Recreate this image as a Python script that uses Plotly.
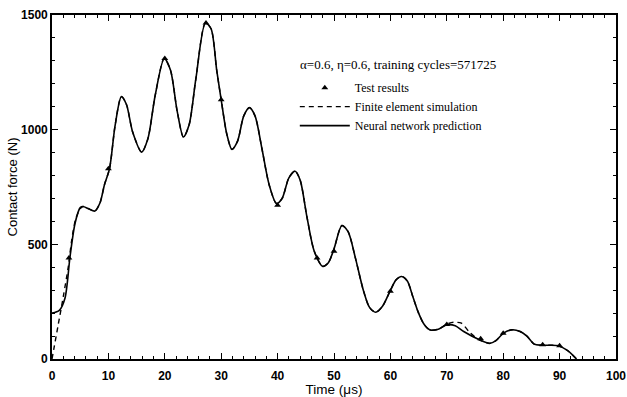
import plotly.graph_objects as go

# Neural network prediction (solid)
nn_t = [0, 1.3, 2.3, 3.2, 4.1, 5.0, 5.5, 6.5, 7.6, 8.5, 9.3, 10.2, 11.2, 12.3, 13.2, 14.3, 15.9,
        17.0, 18.3, 19.9, 21.0, 22.2, 23.3, 24.3, 25.5, 27.2, 28.2, 29.2, 30.0, 31.0, 31.9, 32.9,
        34.0, 35.0, 36.0, 37.2, 38.5, 39.8, 40.8, 42.0, 43.1, 44.0, 45.2, 46.5, 48.0, 49.0, 50.0,
        51.4, 52.5, 53.8, 55.2, 56.3, 57.4, 58.6, 59.9, 61.0, 62.0, 63.0, 64.0, 65.0, 66.0, 67.0,
        68.5, 70.0, 71.5, 73.0, 75.6, 77.6, 78.7, 80.0, 81.5, 83.0, 84.2, 85.5, 86.8, 89.8, 91.5, 93.0]
nn_f = [200, 212, 265, 447, 593, 660, 665, 655, 645, 680, 760, 830, 1020, 1144, 1110, 990, 902,
        960, 1150, 1310, 1260, 1080, 968, 1020, 1220, 1465, 1440, 1260, 1130, 980, 914, 950,
        1060, 1096, 1060, 920, 760, 678, 700, 790, 819, 780, 620, 470, 404, 420, 480,
        582, 555, 440, 300, 225, 204, 230, 294, 345, 360, 340, 270, 200, 150, 127,
        130, 149, 145, 120, 86, 68, 80, 112, 127, 120, 100, 65, 60, 58, 35, 0]

# Finite element simulation (dashed)
fe_t = [0, 0.35, 1.1, 2.0, 2.9, 3.5, 4.2, 5.0, 5.5, 6.5, 7.6, 8.5, 9.3, 10.2, 11.2, 12.3, 13.2, 14.3, 15.9,
        17.0, 18.3, 19.9, 21.0, 22.2, 23.3, 24.3, 25.5, 27.2, 28.2, 29.2, 30.0, 31.0, 31.9, 32.9,
        34.0, 35.0, 36.0, 37.2, 38.5, 39.8, 40.8, 42.0, 43.1, 44.0, 45.2, 46.5, 48.0, 49.0, 50.0,
        51.4, 52.5, 53.8, 55.2, 56.3, 57.4, 58.6, 59.9, 61.0, 62.0, 63.0, 64.0, 65.0, 66.0, 67.0,
        68.5, 70.0, 71.2, 72.6, 74.0, 75.6, 77.6, 78.7, 80.0, 81.5, 83.0, 84.2, 85.5, 86.8, 89.8, 91.5, 93.0]
fe_f = [0, 47, 149, 272, 404, 520, 610, 655, 665, 655, 645, 680, 760, 830, 1020, 1144, 1110, 990, 902,
        960, 1150, 1310, 1260, 1080, 968, 1020, 1220, 1465, 1440, 1260, 1130, 980, 914, 950,
        1060, 1096, 1060, 920, 760, 678, 700, 790, 819, 780, 620, 470, 404, 420, 480,
        582, 555, 440, 300, 225, 204, 230, 294, 345, 360, 340, 270, 200, 150, 127,
        130, 152, 160, 156, 118, 86, 68, 80, 112, 127, 120, 100, 65, 60, 58, 35, 0]

# Test results (triangles)
test_t = [3.0, 10.0, 20.0, 27.3, 30.0, 40.0, 47.0, 50.0, 60.0, 70.0, 76.0, 80.0, 87.0, 90.0]
test_f = [440, 830, 1310, 1465, 1130, 670, 440, 470, 295, 150, 88, 112, 62, 58]

x_ticks = [0, 10, 20, 30, 40, 50, 60, 70, 80, 90, 100]
y_ticks = [0, 500, 1000, 1500]

fig = go.Figure()
fig.add_trace(go.Scatter(x=test_t, y=test_f, mode="markers", name="Test results",
                         marker=dict(symbol="triangle-up", size=6, color="black")))
fig.add_trace(go.Scatter(x=fe_t, y=fe_f, mode="lines", name="Finite element simulation",
                         line=dict(color="black", width=1.4, dash="5px,4px", shape="spline", smoothing=0.8)))
fig.add_trace(go.Scatter(x=nn_t, y=nn_f, mode="lines", name="Neural network prediction",
                         line=dict(color="black", width=1.6, shape="spline", smoothing=0.8)))

tickfont = dict(family="Liberation Sans", size=12, color="black", weight="bold")
fig.update_layout(
    width=627, height=397,
    margin=dict(l=52, r=11, t=15, b=38, autoexpand=False),
    paper_bgcolor="white", plot_bgcolor="white",
    font=dict(family="Liberation Serif", size=12, color="black"),
    showlegend=True,
    legend=dict(x=0.4305, y=0.831, xanchor="left", yanchor="top", bgcolor="rgba(0,0,0,0)",
                itemwidth=50, font=dict(family="Liberation Serif", size=12, color="black"),
                tracegroupgap=0),
    annotations=[dict(text="α=0.6, η=0.6, training cycles=571725", xref="paper", yref="paper",
                      x=0.614, y=0.855, xanchor="center", yanchor="middle", showarrow=False,
                      font=dict(family="Liberation Serif", size=13, color="black"))],
)
fig.update_xaxes(range=[0, 100], tickvals=x_ticks, ticktext=[str(v) for v in x_ticks],
                 ticks="inside", ticklen=6, tickwidth=1.2, tickcolor="black",
                 minor=dict(dtick=2, ticks="inside", ticklen=3, tickwidth=1, tickcolor="black"),
                 showline=True, linecolor="black", linewidth=1.6, mirror="allticks",
                 showgrid=False, zeroline=False, tickfont=tickfont, ticklabelstandoff=5,
                 automargin=False,
                 title=dict(text="Time (μs)", font=dict(family="Liberation Sans", size=13.5, color="black"), standoff=0))
fig.update_yaxes(range=[0, 1500], tickvals=y_ticks, ticktext=[str(v) for v in y_ticks],
                 ticks="inside", ticklen=6, tickwidth=1.2, tickcolor="black",
                 minor=dict(dtick=100, ticks="inside", ticklen=3, tickwidth=1, tickcolor="black"),
                 showline=True, linecolor="black", linewidth=1.6, mirror="allticks",
                 showgrid=False, zeroline=False, tickfont=tickfont, automargin=False,
                 title=dict(text="Contact force (N)", font=dict(family="Liberation Sans", size=13, color="black"), standoff=1))

fig.write_html("out.html")
